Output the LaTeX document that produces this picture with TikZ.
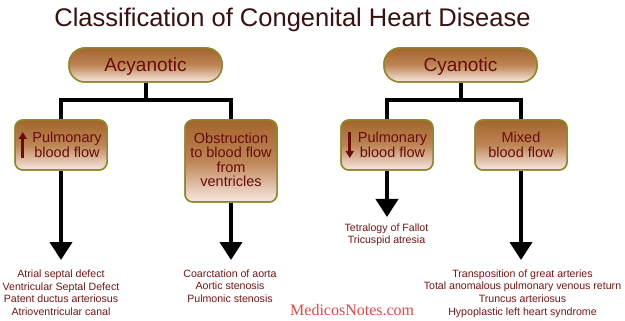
\documentclass[tikz,border=0pt]{standalone}
\usepackage{fontspec}
\setmainfont{Liberation Sans}
\newfontfamily\serifwm{Liberation Serif}
\usetikzlibrary{arrows.meta}
\definecolor{boxtop}{HTML}{A4652C}
\definecolor{boxmid}{HTML}{BE8556}
\definecolor{boxbot}{HTML}{F9E8E2}
\definecolor{boxedge}{HTML}{8C8A2A}
\definecolor{boxtext}{HTML}{6A0C0C}
\definecolor{listtext}{HTML}{7A1414}
\definecolor{titletext}{HTML}{3A1010}
\definecolor{wmred}{HTML}{EE4444}
\begin{document}
\begin{tikzpicture}[x=1pt,y=-1pt,
 boxbase/.style={draw=boxedge, line width=1.5pt, top color=boxtop, bottom color=boxbot, middle color=boxmid, inner sep=0pt},
 pill/.style={boxbase, rounded corners=16pt, minimum width=153pt, minimum height=34pt},
 card/.style={boxbase, rounded corners=8pt, minimum width=92pt},
 boxlabel/.style={text=boxtext, font=\fontsize{14.5}{14.5}\selectfont, align=center, inner sep=0pt},
 pilllabel/.style={text=boxtext, font=\fontsize{19}{19}\selectfont, inner sep=0pt, anchor=base},
 conn/.style={line width=4pt, black},
 bigarrow/.style={line width=4pt, black, -{Triangle[width=22pt,length=18pt]}},
 iconarrow/.style={line width=3pt, boxtext, -{Triangle[width=8pt,length=7pt]}},
 listtxt/.style={text=listtext, font=\fontsize{10.6}{12.6}\selectfont, align=center, inner sep=0pt, anchor=north},
]
\fill[white] (0,0) rectangle (625,321);
\useasboundingbox (0,0) rectangle (625,321);

\node[font=\fontsize{25.5}{25.5}\selectfont, text=titletext, anchor=base, inner sep=0pt] (title) at (292.5,27) {Classification of Congenital Heart Disease};

% junction points
\coordinate (ja) at (145.5,100);
\coordinate (jc) at (460.5,100);

% boxes (placed first so connectors can refer to them)
\node[pill] (acy) at (145.5,65) {};
\node[pill] (cya) at (460.5,65) {};
\node[card, minimum height=50pt] (a1) at (61,145) {};
\node[card, minimum height=82pt] (a2) at (231,161) {};
\node[card, minimum height=50pt] (c1) at (387,145) {};
\node[card, minimum height=50pt] (c2) at (521,145) {};

% connectors
\draw[conn] (acy.south) -- (ja);
\draw[conn] (a1.north) |- (ja) -| (a2.north);
\draw[conn] (cya.south) -- (jc);
\draw[conn] (c1.north) |- (jc) -| (c2.north);

% big arrows
\coordinate (a1tip) at (61,260);
\coordinate (a2tip) at (231,260);
\coordinate (c1tip) at (387,217);
\coordinate (c2tip) at (521,260);
\draw[bigarrow] (a1.south) -- (a1tip);
\draw[bigarrow] (a2.south) -- (a2tip);
\draw[bigarrow] (c1.south) -- (c1tip);
\draw[bigarrow] (c2.south) -- (c2tip);

% redraw boxes on top
\node[pill] at (acy) {};
\node[pill] at (cya) {};
\node[card, minimum height=50pt] at (a1) {};
\node[card, minimum height=82pt] at (a2) {};
\node[card, minimum height=50pt] at (c1) {};
\node[card, minimum height=50pt] at (c2) {};

% labels
\node[pilllabel] (acyt) at (145.5,72) {Acyanotic};
\node[pilllabel] (cyat) at (460.5,72) {Cyanotic};
\node[boxlabel] (a1t) at (67,145) {Pulmonary\\blood flow};
\node[boxlabel] (a2t) at (231,160) {Obstruction\\to blood flow\\from\\ventricles};
\node[boxlabel] (c1t) at (392.5,145) {Pulmonary\\blood flow};
\node[boxlabel] (c2t) at (521,145) {Mixed\\blood flow};

% icon arrows
\draw[iconarrow] ([xshift=8.5pt,yshift=-13pt]a1.west) -- ([xshift=8.5pt,yshift=13pt]a1.west);
\draw[iconarrow] ([xshift=9.5pt,yshift=13pt]c1.west) -- ([xshift=9.5pt,yshift=-13pt]c1.west);

% lists
\node[listtxt] (a1l) at (61,269.7) {Atrial septal defect\\Ventricular Septal Defect\\Patent ductus arteriosus\\Atrioventricular canal};
\node[listtxt] (a2l) at (230,269.5) {Coarctation of aorta\\Aortic stenosis\\Pulmonic stenosis};
\node[listtxt] (c1l) at (386.5,223.5) {Tetralogy of Fallot\\Tricuspid atresia};
\node[listtxt] (c2l) at (522.5,269.5) {Transposition of great arteries\\Total anomalous pulmonary venous return\\Truncus arteriosus\\Hypoplastic left heart syndrome};

\node[font=\serifwm\fontsize{16}{16}\selectfont, text=wmred, anchor=base west, inner sep=0pt] (wm) at (290,315) {MedicosNotes.com};
\end{tikzpicture}
\end{document}
